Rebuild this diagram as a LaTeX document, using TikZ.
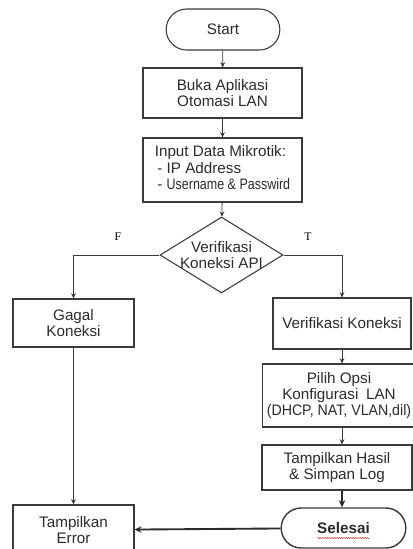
\documentclass[tikz,border=0pt]{standalone}
\usepackage{fontspec}
\setmainfont{Liberation Sans}
\newfontfamily\flagfont{Liberation Serif}
\usepackage{tikz}
\usetikzlibrary{
  arrows.meta,
  positioning,
  shapes.geometric,
  shapes.misc,
  decorations.pathmorphing,
}
\definecolor{ink}{HTML}{2B2B2B}
\definecolor{edge}{HTML}{3A3A3A}
\definecolor{spell}{HTML}{D03030}
\tikzset{
  >={Stealth[length=4.5pt,width=4pt]},
  every node/.append style={text=ink},
  txt/.style={font=\fontsize{13}{14}\selectfont},
  box/.style={
    draw=edge,
    line width=0.9pt,
    rectangle,
    align=center,
    inner sep=1pt,
    txt,
  },
  term/.style={
    draw=edge,
    line width=0.9pt,
    rounded rectangle,
    align=center,
    inner sep=1pt,
    txt,
  },
  decision/.style={
    draw=edge,
    line width=0.9pt,
    shape=diamond,
    aspect=1.62,
    inner sep=-4pt,
    align=center,
    txt,
  },
  flow/.style={draw=edge, line width=0.7pt, ->},
  boldflow/.style={draw=ink, line width=1.6pt, -{Stealth[length=6pt,width=5.5pt]}},
  flag/.style={font=\flagfont\fontsize{10}{12}\selectfont, text=black},
}

\begin{document}
\begin{tikzpicture}[x=0.03cm,y=-0.03cm]
  \useasboundingbox (0,0) rectangle (413,549);
  \clip (0,0) rectangle (413,549);
  \fill[white] (0,0) rectangle (413,549);

  % --- main column ---
  \node[term, minimum width=3.48cm, minimum height=1.23cm] (start) at (223,29.5) {Start};
  \node[box, minimum width=4.77cm, minimum height=1.5cm] (buka) at (222.5,93) {Buka Aplikasi\\Otomasi LAN};
  \node[box, minimum width=4.77cm, minimum height=1.92cm] (input) at (222.5,170)
    {\begin{tabular}{@{}l@{}}Input Data Mikrotik:\\ \,- IP Address\\ \,- \scalebox{0.82}[1]{Username \& Passwird}\end{tabular}};
  \node[decision, minimum width=3.69cm, minimum height=2.28cm] (verif) at (221.5,255) {Verifikasi\\Koneksi API};

  \node[flag] (lblF) at (118,237) {F};
  \node[flag] (lblT) at (308,237) {T};

  % --- false branch ---
  \node[box, minimum width=3.63cm, minimum height=1.44cm] (gagal) at (73.5,323) {Gagal\\Koneksi};
  \node[box, minimum width=3.63cm, minimum height=1.5cm] (error) at (73.5,530) {Tampilkan\\Error};

  % --- true branch ---
  \node[box, minimum width=4.14cm, minimum height=1.53cm] (koneksi) at (342,323.5) {Verifikasi Koneksi};
  \node[box, minimum width=4.58cm, minimum height=1.89cm] (opsi) at (339,395.5)
    {Pilih Opsi\\Konfigurasi\enspace LAN\\\scalebox{0.93}[1]{(DHCP, NAT, VLAN,dil)}};
  \node[box, minimum width=4.5cm, minimum height=1.35cm] (hasil) at (337,467.5) {Tampilkan Hasil\\\& Simpan Log};
  \node[term, line width=1.2pt, minimum width=3.81cm, minimum height=1.2cm] (selesai) at (343.5,528) {\bfseries Selesai};
  \draw[spell, line width=0.4pt, decorate, decoration={snake, amplitude=0.5pt, segment length=2pt}]
    ([xshift=-0.78cm,yshift=-0.3cm]selesai.center) -- ([xshift=0.78cm,yshift=-0.3cm]selesai.center);

  % connectors
  \draw[flow] (start) -- (buka);
  \draw[flow] (buka) -- (input);
  \draw[flow] (input) -- (verif);
  \draw[flow] (verif.west) -| (gagal.north);
  \draw[flow] (verif.east) -| (koneksi.north);
  \draw[flow] (gagal) -- (error);
  \draw[flow] (koneksi) -- (koneksi.south |- opsi.north);
  \draw[flow] (koneksi.south |- opsi.south) -- (koneksi.south |- hasil.north);
  \draw[boldflow] (koneksi.south |- hasil.south) -- (koneksi.south |- selesai.north);
  \draw[boldflow] (selesai) -- (error);
\end{tikzpicture}
\end{document}
